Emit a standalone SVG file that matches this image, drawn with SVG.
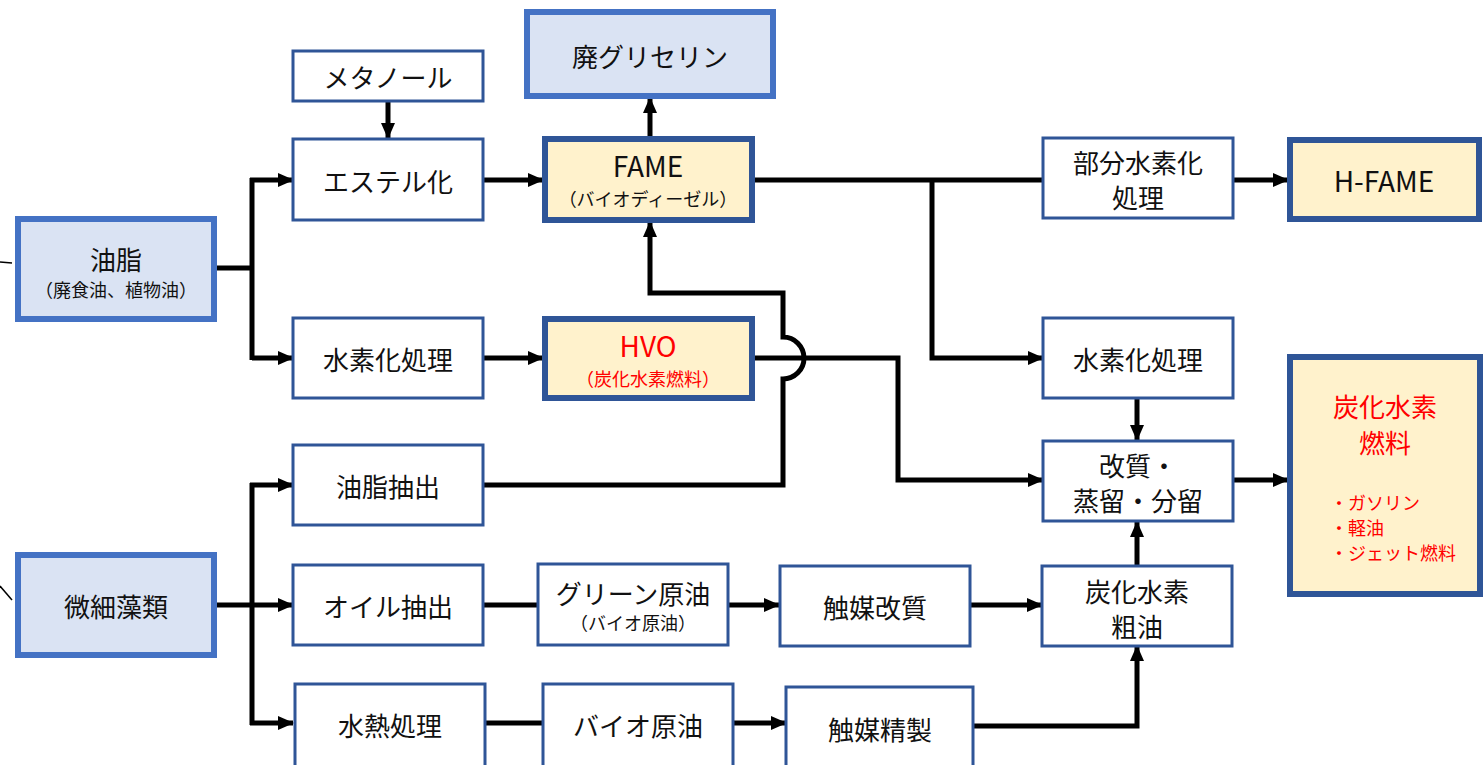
<svg xmlns="http://www.w3.org/2000/svg" width="1484" height="765" viewBox="0 0 1484 765">
<defs>
<marker id="ah" markerUnits="userSpaceOnUse" markerWidth="16" markerHeight="14" refX="15" refY="7" orient="auto">
<path d="M0,0 L16,7 L0,14 Z" fill="#000"/>
</marker>
<style>
text{font-family:"Noto Sans CJK JP","Noto Sans",sans-serif;fill:#111;text-anchor:middle;dominant-baseline:central;font-weight:400}
.w{fill:#fff;stroke:#2f5597;stroke-width:3}
.src{fill:#dae3f3;stroke:#4472c4;stroke-width:6}
.prod{fill:#fff2cc;stroke:#2f5597;stroke-width:6}
.t{font-size:26px}
.s{font-size:18px}
.b{font-size:28px}
.r{fill:#ff0000}
.c{fill:none;stroke:#000;stroke-width:5}
.a{marker-end:url(#ah)}
.thin{fill:none;stroke:#000;stroke-width:1.5}
</style>
</defs>
<rect width="1484" height="765" fill="#fff"/>

<g id="connectors">
<line class="thin" x1="0" y1="262" x2="12" y2="263"/>
<line class="thin" x1="0" y1="586" x2="12" y2="600"/>
<polyline class="c" points="215,268 252,268"/>
<polyline class="c" points="252,178 252,360"/>
<polyline class="c a" points="250,180 293,180"/>
<polyline class="c a" points="252,358 293,358"/>
<polyline class="c" points="215,605 252,605"/>
<polyline class="c" points="252,483 252,725"/>
<polyline class="c a" points="250,485 293,485"/>
<polyline class="c a" points="252,605 293,605"/>
<polyline class="c a" points="250,723 293,723"/>
<polyline class="c a" points="388,102 388,138"/>
<polyline class="c a" points="483,180 543,180"/>
<polyline class="c a" points="650,137 650,98"/>
<polyline class="c" points="753,180 1043,180"/>
<polyline class="c a" points="932,180 932,358 1043,358"/>
<polyline class="c a" points="1233,180 1288,180"/>
<polyline class="c a" points="483,358 543,358"/>
<polyline class="c a" points="753,358 898,358 898,480 1043,480"/>
<path class="c a" d="M483,485 L783,485 L783,379 A21,21 0 0 0 783,337 L783,293 L650,293 L650,222"/>
<polyline class="c a" points="1137,398 1137,440"/>
<polyline class="c a" points="1137,566 1137,522"/>
<polyline class="c a" points="1232,480 1288,480"/>
<polyline class="c" points="484,605 537,605"/>
<polyline class="c a" points="728,605 779,605"/>
<polyline class="c a" points="970,605 1042,605"/>
<polyline class="c" points="485,723 543,723"/>
<polyline class="c a" points="733,723 786,723"/>
<polyline class="c a" points="973,726 1137,726 1137,646"/>
</g>

<g id="n-yushi"><rect class="src" x="18" y="219" width="196" height="100"/><text class="t" x="116" y="258">油脂</text><text class="s" x="116" y="289">（廃食油、植物油）</text></g>
<g id="n-sorui"><rect class="src" x="18" y="555" width="196" height="100"/><text class="t" x="116" y="605">微細藻類</text></g>
<g id="n-methanol"><rect class="w" x="293" y="51" width="190" height="50"/><text class="t" x="388" y="76">メタノール</text></g>
<g id="n-ester"><rect class="w" x="293" y="139" width="190" height="81"/><text class="t" x="388" y="180">エステル化</text></g>
<g id="n-glycerin"><rect class="src" x="527" y="12" width="246" height="84"/><text class="t" x="650" y="55">廃グリセリン</text></g>
<g id="n-fame"><rect class="prod" x="545" y="139" width="207" height="81"/><text class="b" x="648" y="165">FAME</text><text class="s" x="648" y="198">（バイオディーゼル）</text></g>
<g id="n-hydro1"><rect class="w" x="293" y="318" width="190" height="80"/><text class="t" x="388" y="358">水素化処理</text></g>
<g id="n-hvo"><rect class="prod" x="545" y="319" width="207" height="79"/><text class="b r" x="648" y="345">HVO</text><text class="s r" x="648" y="378">（炭化水素燃料）</text></g>
<g id="n-yushi-ext"><rect class="w" x="293" y="445" width="190" height="80"/><text class="t" x="388" y="485">油脂抽出</text></g>
<g id="n-oil-ext"><rect class="w" x="293" y="565" width="190" height="80"/><text class="t" x="388" y="605">オイル抽出</text></g>
<g id="n-green"><rect class="w" x="538" y="564" width="190" height="81"/><text class="t" x="633" y="592">グリーン原油</text><text class="s" x="633" y="622">（バイオ原油）</text></g>
<g id="n-hydrothermal"><rect class="w" x="295" y="684" width="190" height="84"/><text class="t" x="390" y="724">水熱処理</text></g>
<g id="n-biocrude"><rect class="w" x="543" y="684" width="190" height="84"/><text class="t" x="638" y="724">バイオ原油</text></g>
<g id="n-cat-reform"><rect class="w" x="780" y="566" width="190" height="80"/><text class="t" x="875" y="606">触媒改質</text></g>
<g id="n-cat-refine"><rect class="w" x="786" y="687" width="187" height="84"/><text class="t" x="880" y="728">触媒精製</text></g>
<g id="n-crude"><rect class="w" x="1042" y="566" width="190" height="80"/><text class="t" x="1137" y="590">炭化水素</text><text class="t" x="1137" y="625">粗油</text></g>
<g id="n-hydro2"><rect class="w" x="1043" y="318" width="190" height="80"/><text class="t" x="1138" y="358">水素化処理</text></g>
<g id="n-reform"><rect class="w" x="1043" y="441" width="190" height="80"/><text class="t" x="1138" y="464">改質・</text><text class="t" x="1138" y="499">蒸留・分留</text></g>
<g id="n-partial"><rect class="w" x="1043" y="138" width="190" height="80"/><text class="t" x="1138" y="161">部分水素化</text><text class="t" x="1138" y="196">処理</text></g>
<g id="n-hfame"><rect class="prod" x="1290" y="140" width="189" height="79"/><text class="b" x="1384" y="180">H-FAME</text></g>
<g id="n-fuel"><rect class="prod" x="1290" y="357" width="190" height="237"/><text class="r" x="1385" y="405" style="font-size:26px">炭化水素</text><text class="r" x="1385" y="441" style="font-size:26px">燃料</text><text class="s r" x="1330" y="502" style="text-anchor:start">・ガソリン</text><text class="s r" x="1330" y="527" style="text-anchor:start">・軽油</text><text class="s r" x="1330" y="552" style="text-anchor:start">・ジェット燃料</text></g>
</svg>
